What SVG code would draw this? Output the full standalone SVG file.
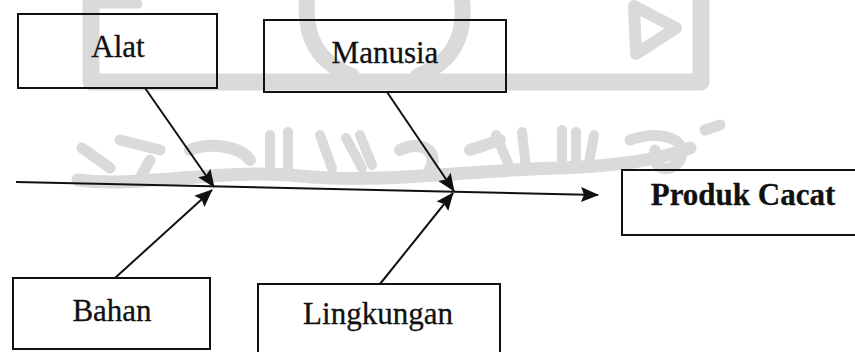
<svg xmlns="http://www.w3.org/2000/svg" width="855" height="352" viewBox="0 0 855 352">
  <style>
    .box { fill: none; stroke: #111; stroke-width: 2; }
    .lbl { font-family: "Liberation Serif", "Times New Roman", serif; font-size: 31px; fill: #111; stroke: #111; stroke-width: 0.3; text-anchor: middle; }
    .bold { font-weight: bold; }
    .edge { stroke: #111; stroke-width: 2; fill: none; }
    .wm { fill: none; stroke: #dadada; stroke-linecap: round; stroke-linejoin: round; }
  </style>
  <defs>
    <marker id="head" markerUnits="userSpaceOnUse" markerWidth="18" markerHeight="16" viewBox="0 0 18 16" refX="17" refY="8" orient="auto">
      <path d="M0,0.5 L18,8 L0,15.5 L3,8 Z" fill="#111"/>
    </marker>
  </defs>
  <rect width="855" height="352" fill="#fff"/>

  <!-- faint emblem behind the chart -->
  <g id="emblem">
    <path class="wm" stroke-width="17" d="M91,0 V82 H701 V0"/>
    <path class="wm" stroke-width="9" d="M92,4 H138"/>
    <path class="wm" stroke-width="16" d="M307,0 C304,38 318,62 352,76"/>
    <path class="wm" stroke-width="16" d="M462,0 C466,38 452,62 418,76"/>
    <path class="wm" stroke-width="12" d="M634,6 L676,28 L636,54 Z"/>
    <path class="wm" stroke-width="13" d="M78,180 C140,188 220,168 300,176 C380,184 470,170 560,168 C620,166 660,160 690,148"/>
    <path class="wm" stroke-width="11" d="M82,148 L110,168 M120,140 L160,150 M140,178 L150,160"/>
    <path class="wm" stroke-width="12" d="M190,150 C210,142 240,146 250,160"/>
    <path class="wm" stroke-width="10" d="M270,135 V170 M288,132 V168 M320,135 L332,168 M346,138 L362,168 M360,135 L372,165"/>
    <path class="wm" stroke-width="12" d="M400,150 C420,140 440,150 430,170 M470,150 L500,140"/>
    <path class="wm" stroke-width="10" d="M496,135 L510,168 M522,132 L526,168 M562,130 V168 M576,132 V168 M594,135 L588,168"/>
    <path class="wm" stroke-width="11" d="M630,140 C660,130 690,138 680,160 C670,175 650,170 655,150 M705,130 L720,125"/>
  </g>

  <g id="connectors">
    <line class="edge" x1="16" y1="182" x2="598" y2="195" marker-end="url(#head)"/>
    <line class="edge" x1="145" y1="88" x2="214" y2="187" marker-end="url(#head)"/>
    <line class="edge" x1="115" y1="278" x2="212" y2="190" marker-end="url(#head)"/>
    <line class="edge" x1="387" y1="92" x2="454" y2="191" marker-end="url(#head)"/>
    <line class="edge" x1="380" y1="284" x2="453" y2="193" marker-end="url(#head)"/>
  </g>

  <g id="alat">
    <rect class="box" x="18" y="14" width="199" height="74"/>
    <text class="lbl" x="118" y="57">Alat</text>
  </g>
  <g id="manusia">
    <rect class="box" x="264" y="20" width="242" height="72"/>
    <text class="lbl" x="385" y="63">Manusia</text>
  </g>
  <g id="bahan">
    <rect class="box" x="13" y="278" width="197" height="71"/>
    <text class="lbl" x="112" y="321">Bahan</text>
  </g>
  <g id="lingkungan">
    <rect class="box" x="258" y="284" width="242" height="80"/>
    <text class="lbl" x="378" y="324">Lingkungan</text>
  </g>
  <g id="produk-cacat">
    <rect class="box" x="622" y="170" width="245" height="65"/>
    <text class="lbl bold" x="743" y="205">Produk Cacat</text>
  </g>
</svg>
